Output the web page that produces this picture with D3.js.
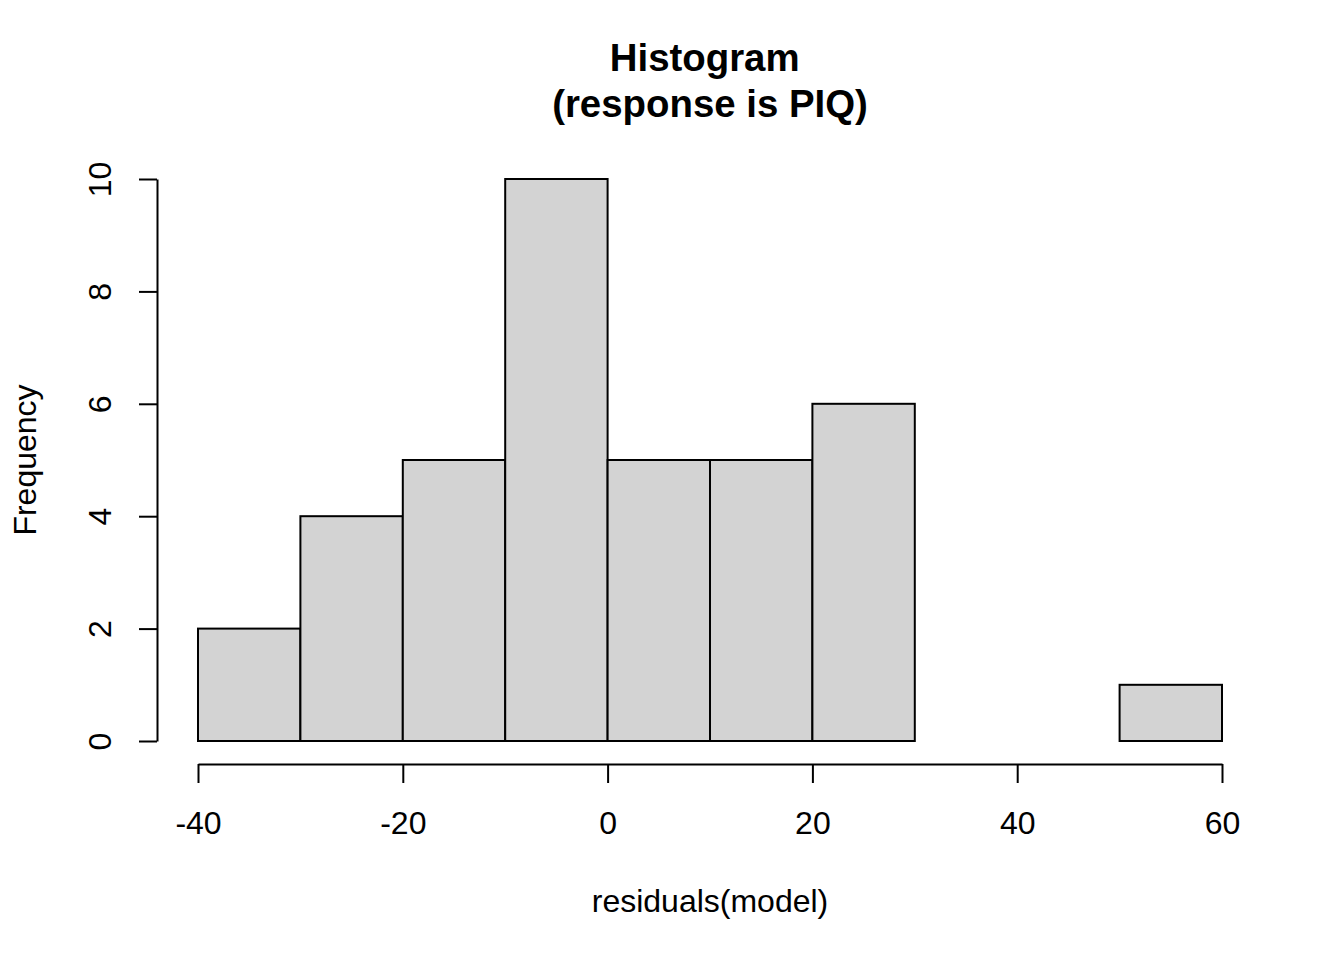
<!DOCTYPE html>
<html>
<head>
<meta charset="utf-8">
<script src="https://cdn.jsdelivr.net/npm/d3@7"></script>
<style>
  body { margin: 0; background: #fff; }
  text { font-family: "Liberation Sans", Arial, sans-serif; fill: #000; }
</style>
</head>
<body>
<svg id="hist" width="1344" height="960"></svg>
<script>
"use strict";

// Histogram bins
var binStarts = [-40, -30, -20, -10, 0, 10, 20, 30, 40, 50];
var binWidth = 10;
var counts = [2, 4, 5, 10, 5, 5, 6, 0, 0, 1];
var xTicks = [-40, -20, 0, 20, 40, 60];
var yTicks = [0, 2, 4, 6, 8, 10];
var titleLines = ["Histogram ", "(response is PIQ)"];

var svg = d3.select("#hist");

//Scales
var x = d3.scaleLinear().domain([-40, 60]).range([198, 1222]);
var y = d3.scaleLinear().domain([0, 10]).range([741, 179]);

//Bars
svg.selectAll(".bar")
  .data(counts)
  .enter().append("rect")
  .attr("class", "bar")
  .attr("x", function(d, i) { return x(binStarts[i]); })
  .attr("width", function(d, i) { return x(binStarts[i] + binWidth) - x(binStarts[i]); })
  .attr("y", function(d) { return y(d); })
  .attr("height", function(d) { return y(0) - y(d); })
  .attr("fill", "#d3d3d3")
  .attr("stroke", "#000")
  .attr("stroke-width", 2);

//X axis (plain hyphen minus like R)
var xAxis = svg.append("g")
  .attr("transform", "translate(0,764)")
  .call(d3.axisBottom(x).tickValues(xTicks).tickFormat(function(d) { return String(d); })
    .tickSize(19).tickPadding(28).tickSizeOuter(0));
xAxis.select(".domain").attr("stroke-width", 2);
xAxis.selectAll(".tick line").attr("stroke-width", 2);
xAxis.selectAll(".tick text")
  .style("font-size", "32px")
  .style("font-family", "Liberation Sans, Arial, sans-serif")
  .attr("dy", "0.71em");

//Y axis
var yAxis = svg.append("g")
  .attr("transform", "translate(157,0)")
  .call(d3.axisLeft(y).tickValues(yTicks).tickSize(18).tickSizeOuter(0));
yAxis.select(".domain").attr("stroke-width", 2);
yAxis.selectAll(".tick line").attr("stroke-width", 2);
yAxis.selectAll(".tick text")
  .style("font-size", "32px")
  .style("font-family", "Liberation Sans, Arial, sans-serif")
  .attr("x", null)
  .attr("dy", null)
  .attr("text-anchor", "middle")
  .attr("dominant-baseline", "central")
  .attr("transform", "translate(-57,0) rotate(-90)");

//Title
svg.append("g")
  .selectAll("text")
  .data(titleLines)
  .enter().append("text")
  .attr("x", 710)
  .attr("y", function(d, i) { return 58 + i * 46; })
  .attr("dy", "0.35em")
  .attr("text-anchor", "middle")
  .attr("xml:space", "preserve")
  .style("white-space", "pre")
  .style("font-size", "38.4px")
  .style("font-weight", "bold")
  .text(function(d) { return d; });

//Axis labels
svg.append("text")
  .attr("x", 710)
  .attr("y", 901)
  .attr("dy", "0.35em")
  .attr("text-anchor", "middle")
  .style("font-size", "32px")
  .text("residuals(model)");

svg.append("text")
  .attr("transform", "translate(25,460) rotate(-90)")
  .attr("dy", "0.35em")
  .attr("text-anchor", "middle")
  .style("font-size", "32px")
  .text("Frequency");
</script>
</body>
</html>
